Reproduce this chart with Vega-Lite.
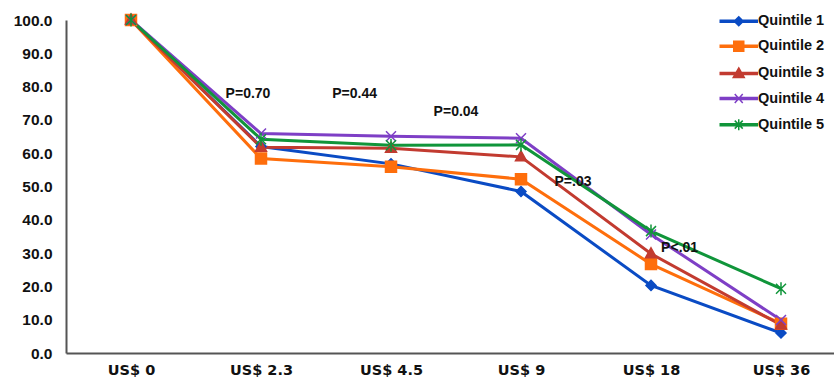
{
  "$schema": "https://vega.github.io/schema/vega-lite/v6.json",
  "autosize": {"type": "none"},
  "padding": {"left": 66, "top": 20, "right": 0, "bottom": 24},
  "width": 768,
  "height": 333,
  "background": "white",
  "config": {
    "view": {"stroke": null},
    "font": "Liberation Sans"
  },
  "datasets": {
    "series": [
      {"price": "US$ 0", "idx": 0, "quintile": "Quintile 1", "value": 100},
      {"price": "US$ 2.3", "idx": 1, "quintile": "Quintile 1", "value": 62.0},
      {"price": "US$ 4.5", "idx": 2, "quintile": "Quintile 1", "value": 56.8},
      {"price": "US$ 9", "idx": 3, "quintile": "Quintile 1", "value": 48.5},
      {"price": "US$ 18", "idx": 4, "quintile": "Quintile 1", "value": 20.3},
      {"price": "US$ 36", "idx": 5, "quintile": "Quintile 1", "value": 6.0},
      {"price": "US$ 0", "idx": 0, "quintile": "Quintile 2", "value": 100},
      {"price": "US$ 2.3", "idx": 1, "quintile": "Quintile 2", "value": 58.4},
      {"price": "US$ 4.5", "idx": 2, "quintile": "Quintile 2", "value": 55.9},
      {"price": "US$ 9", "idx": 3, "quintile": "Quintile 2", "value": 52.2},
      {"price": "US$ 18", "idx": 4, "quintile": "Quintile 2", "value": 26.7},
      {"price": "US$ 36", "idx": 5, "quintile": "Quintile 2", "value": 8.8},
      {"price": "US$ 0", "idx": 0, "quintile": "Quintile 3", "value": 100},
      {"price": "US$ 2.3", "idx": 1, "quintile": "Quintile 3", "value": 61.8},
      {"price": "US$ 4.5", "idx": 2, "quintile": "Quintile 3", "value": 61.5},
      {"price": "US$ 9", "idx": 3, "quintile": "Quintile 3", "value": 58.9},
      {"price": "US$ 18", "idx": 4, "quintile": "Quintile 3", "value": 29.8},
      {"price": "US$ 36", "idx": 5, "quintile": "Quintile 3", "value": 8.4},
      {"price": "US$ 0", "idx": 0, "quintile": "Quintile 4", "value": 100},
      {"price": "US$ 2.3", "idx": 1, "quintile": "Quintile 4", "value": 65.9},
      {"price": "US$ 4.5", "idx": 2, "quintile": "Quintile 4", "value": 65.1},
      {"price": "US$ 9", "idx": 3, "quintile": "Quintile 4", "value": 64.5},
      {"price": "US$ 18", "idx": 4, "quintile": "Quintile 4", "value": 35.6},
      {"price": "US$ 36", "idx": 5, "quintile": "Quintile 4", "value": 9.9},
      {"price": "US$ 0", "idx": 0, "quintile": "Quintile 5", "value": 100},
      {"price": "US$ 2.3", "idx": 1, "quintile": "Quintile 5", "value": 64.2},
      {"price": "US$ 4.5", "idx": 2, "quintile": "Quintile 5", "value": 62.4},
      {"price": "US$ 9", "idx": 3, "quintile": "Quintile 5", "value": 62.5},
      {"price": "US$ 18", "idx": 4, "quintile": "Quintile 5", "value": 36.6},
      {"price": "US$ 36", "idx": 5, "quintile": "Quintile 5", "value": 19.3}
    ],
    "notes": [
      {"label": "P=0.70", "idx": 0.9, "value": 77.8},
      {"label": "P=0.44", "idx": 1.72, "value": 77.8},
      {"label": "P=0.04", "idx": 2.5, "value": 72.4},
      {"label": "P=.03", "idx": 3.4, "value": 51.3},
      {"label": "P<.01", "idx": 4.22, "value": 31.5}
    ]
  },
  "encoding": {
    "x": {
      "field": "idx", "type": "quantitative",
      "scale": {"domain": [-0.5, 5.4077], "nice": false, "zero": false},
      "axis": {
        "title": null, "values": [0, 1, 2, 3, 4, 5],
        "labelExpr": "['US$ 0','US$ 2.3','US$ 4.5','US$ 9','US$ 18','US$ 36'][datum.value]",
        "grid": false, "ticks": false, "domainColor": "#555555", "domainWidth": 2,
        "labelFont": "DejaVu Sans", "labelFontWeight": "bold", "labelFontSize": 14.5,
        "labelColor": "#111111", "labelPadding": 10, "labelOverlap": false
      }
    },
    "y": {
      "field": "value", "type": "quantitative",
      "scale": {"domain": [0, 100], "nice": false},
      "axis": {
        "title": null, "values": [0, 10, 20, 30, 40, 50, 60, 70, 80, 90, 100],
        "format": ".1f", "grid": false, "ticks": false,
        "domainColor": "#555555", "domainWidth": 2,
        "labelFont": "Liberation Sans", "labelFontWeight": "bold", "labelFontSize": 15.5,
        "labelColor": "#111111", "labelPadding": 14, "labelOverlap": false, "labelSeparation": 0
      }
    }
  },
  "layer": [
    {
      "data": {"name": "series"},
      "mark": {"type": "point", "filled": true, "size": 100, "strokeWidth": 1.5, "opacity": 0},
      "encoding": {
        "color": {
          "field": "quintile", "type": "nominal",
          "scale": {
            "domain": ["Quintile 1", "Quintile 2", "Quintile 3", "Quintile 4", "Quintile 5"],
            "range": ["#0a4bc4", "#fe6e0c", "#c23b30", "#7e3fc6", "#10953a"]
          },
          "legend": {
            "title": null, "orient": "none", "legendX": 652, "legendY": -6,
            "symbolSize": 100, "symbolOffset": 13.5, "labelOffset": 12,
            "symbolOpacity": 1, "symbolStrokeWidth": 1.5,
            "labelFont": "Liberation Sans", "labelFontWeight": "bold", "labelFontSize": 14.5,
            "labelColor": "#111111", "rowPadding": 9.1, "padding": 0
          }
        },
        "shape": {
          "field": "quintile", "type": "nominal",
          "scale": {
            "domain": ["Quintile 1", "Quintile 2", "Quintile 3", "Quintile 4", "Quintile 5"],
            "range": [
              "M-3.7,-0.2H3.7V0.2H-3.7ZM0,-0.9L0.9,0L0,0.9L-0.9,0Z",
              "M-3.7,-0.2H3.7V0.2H-3.7ZM-1,-1H1V1H-1Z",
              "M-3.7,-0.2H3.7V0.2H-3.7ZM0,-1.1L1.1,0.8H-1.1Z",
              "M-3.7,-0.2H3.7V0.2H-3.7ZM-0.8,-0.9L0.8,0.9M-0.8,0.9L0.8,-0.9",
              "M-3.7,-0.2H3.7V0.2H-3.7ZM-0.8,-0.8L0.8,0.8M-0.8,0.8L0.8,-0.8M0,-1.1V1.1"
            ]
          },
          "legend": {
            "title": null, "orient": "none", "legendX": 652, "legendY": -6,
            "symbolSize": 100, "symbolOffset": 13.5, "labelOffset": 12,
            "symbolOpacity": 1, "symbolStrokeWidth": 1.5,
            "labelFont": "Liberation Sans", "labelFontWeight": "bold", "labelFontSize": 14.5,
            "labelColor": "#111111", "rowPadding": 9.1, "padding": 0
          }
        },
        "stroke": {
          "field": "quintile", "type": "nominal",
          "scale": {
            "domain": ["Quintile 1", "Quintile 2", "Quintile 3", "Quintile 4", "Quintile 5"],
            "range": ["#0a4bc4", "#fe6e0c", "#c23b30", "#7e3fc6", "#10953a"]
          }
        }
      }
    },
    {
      "data": {"name": "series"},
      "mark": {"type": "line", "strokeWidth": 3},
      "encoding": {
        "color": {"field": "quintile", "type": "nominal"},
        "order": {"field": "idx", "type": "quantitative"}
      }
    },
    {
      "data": {"name": "series"},
      "transform": [{"filter": "datum.quintile == 'Quintile 1'"}],
      "mark": {"type": "point", "shape": "M0,-1L1,0L0,1L-1,0Z", "filled": true, "size": 100, "strokeWidth": 1.5, "opacity": 1},
      "encoding": {
        "color": {"field": "quintile", "type": "nominal"},
        "stroke": {"field": "quintile", "type": "nominal"}
      }
    },
    {
      "data": {"name": "series"},
      "transform": [{"filter": "datum.quintile == 'Quintile 2'"}],
      "mark": {"type": "point", "shape": "M-1.1,-1.1H1.1V1.1H-1.1Z", "filled": true, "size": 100, "strokeWidth": 1.5, "opacity": 1},
      "encoding": {
        "color": {"field": "quintile", "type": "nominal"},
        "stroke": {"field": "quintile", "type": "nominal"}
      }
    },
    {
      "data": {"name": "series"},
      "transform": [{"filter": "datum.quintile == 'Quintile 3'"}],
      "mark": {"type": "point", "shape": "M0,-1.2L1.1,0.8H-1.1Z", "filled": true, "size": 100, "strokeWidth": 1.5, "opacity": 1},
      "encoding": {
        "color": {"field": "quintile", "type": "nominal"},
        "stroke": {"field": "quintile", "type": "nominal"}
      }
    },
    {
      "data": {"name": "series"},
      "transform": [{"filter": "datum.quintile == 'Quintile 4'"}],
      "mark": {"type": "point", "shape": "M-1,-1L1,1M-1,1L1,-1", "filled": true, "size": 100, "strokeWidth": 1.5, "opacity": 1},
      "encoding": {
        "color": {"field": "quintile", "type": "nominal"},
        "stroke": {"field": "quintile", "type": "nominal"}
      }
    },
    {
      "data": {"name": "series"},
      "transform": [{"filter": "datum.quintile == 'Quintile 5'"}],
      "mark": {"type": "point", "shape": "M-1,-1L1,1M-1,1L1,-1M0,-1.3V1.3", "filled": true, "size": 100, "strokeWidth": 1.5, "opacity": 1},
      "encoding": {
        "color": {"field": "quintile", "type": "nominal"},
        "stroke": {"field": "quintile", "type": "nominal"}
      }
    },
    {
      "data": {"name": "notes"},
      "mark": {"type": "text", "font": "Liberation Sans", "fontWeight": "bold", "fontSize": 14, "color": "#111111", "align": "center", "baseline": "middle"},
      "encoding": {
        "text": {"field": "label", "type": "nominal"}
      }
    }
  ]
}
